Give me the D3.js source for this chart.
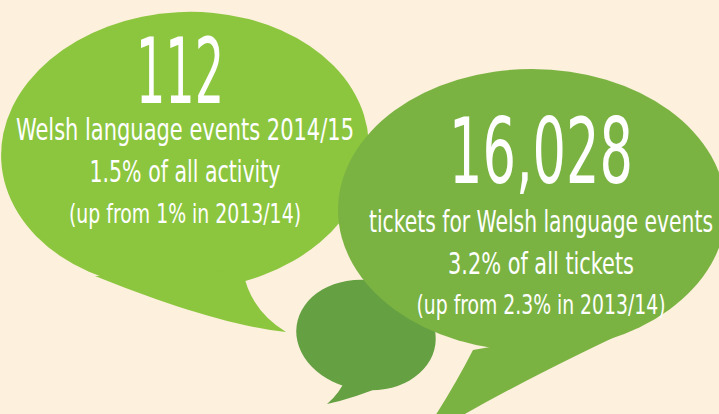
<!DOCTYPE html>
<html>
<head>
<meta charset="utf-8">
<script src="https://cdn.jsdelivr.net/npm/d3@7"></script>
<style>
  html, body { margin: 0; padding: 0; background: #fdf0dc; }
  svg { display: block; }
  text { font-family: "Liberation Sans Narrow", "DejaVu Sans Condensed", "Liberation Sans", sans-serif; fill: #fff; }
</style>
</head>
<body>
<script>
// figures for Welsh language activity
var headlines = [112, 16028];
var descriptions = ["Welsh language events 2014/15", "tickets for Welsh language events"];
var shares = [1.5, 3.2];
var shareOf = ["of all activity", "of all tickets"];
var previousShares = [1, 2.3];
var previousYear = "2013/14";

var width = 719,
    height = 414;

// bubble shapes (body ellipse + tail), drawn back to front
var bubbles = [
  { fill: "#8cc63f", cx: 185, cy: 151, rx: 184, ry: 139, rot: -3,
    tail: "M243,271 Q250,310 286,332 C230,326 160,302 95,276 Z" },
  { fill: "#65a143", cx: 366, cy: 335, rx: 70, ry: 55, rot: 8,
    tail: "M346,378 Q340,393 327,404 Q355,398 385,385 Z" },
  { fill: "#7bb343", cx: 532, cy: 210, rx: 194, ry: 141, rot: 0,
    tail: "M473,350 Q450,395 418,442 Q500,390 655,318 Z" }
];

// text block per figure
var blocks = [
  { x: 185, bigX: 180, ys: [103, 140, 182, 223], lens: [88, 338, 191, 232] },
  { x: 541, bigX: 541, ys: [183, 232, 274, 314], lens: [184, 344, 186, 249] }
];
var sizes = [90, 30, 31, 27];

var svg = d3.select("body").append("svg")
    .attr("width", width)
    .attr("height", height);

svg.append("rect")
    .attr("width", width)
    .attr("height", height)
    .attr("fill", "#fdf0dc");

var g = svg.selectAll("g.bubble")
    .data(bubbles)
  .enter().append("g")
    .attr("class", "bubble")
    .attr("fill", function(d) { return d.fill; });

g.append("ellipse")
    .attr("transform", function(d) { return "translate(" + d.cx + "," + d.cy + ") rotate(" + d.rot + ")"; })
    .attr("rx", function(d) { return d.rx; })
    .attr("ry", function(d) { return d.ry; });

g.append("path")
    .attr("d", function(d) { return d.tail; });

var fmt = d3.format(",");

var lines = headlines.map(function(h, i) {
  return [
    fmt(h),
    descriptions[i],
    shares[i] + "% " + shareOf[i],
    "(up from " + previousShares[i] + "% in " + previousYear + ")"
  ];
});

var tg = svg.selectAll("g.block")
    .data(lines)
  .enter().append("g")
    .attr("class", "block");

tg.each(function(ls, i) {
  var b = blocks[i];
  d3.select(this).selectAll("text")
      .data(ls)
    .enter().append("text")
      .attr("x", function(d, j) { return j === 0 ? b.bigX : b.x; })
      .attr("y", function(d, j) { return b.ys[j]; })
      .attr("text-anchor", "middle")
      .attr("font-size", function(d, j) { return sizes[j]; })
      .attr("textLength", function(d, j) { return b.lens[j]; })
      .attr("lengthAdjust", "spacingAndGlyphs")
      .text(function(d) { return d; });
});
</script>
</body>
</html>
